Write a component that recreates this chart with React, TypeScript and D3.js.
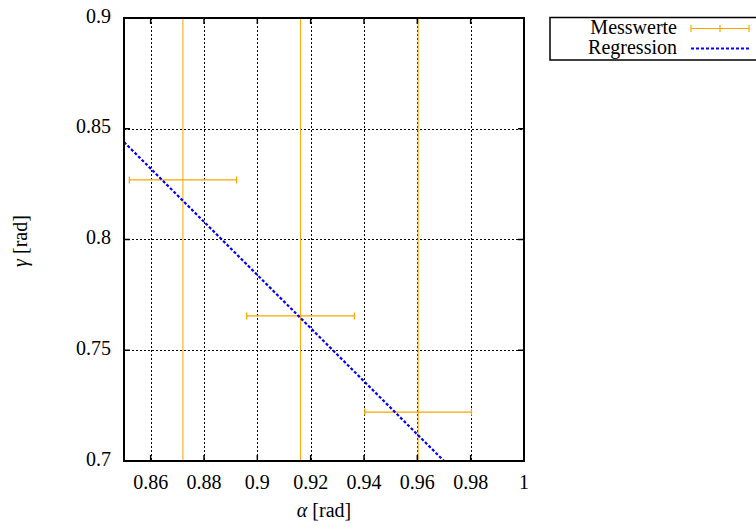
import { useEffect, useRef } from 'react';
import * as d3 from 'd3';

// measured values (alpha, gamma) with errors
const alphaValues = [0.8721, 0.9162, 0.9603];
const gammaValues = [0.8269, 0.7655, 0.7221];
const alphaErrors = [0.0201, 0.0202, 0.0200];
const gammaErrors = [0.3, 0.3, 0.3];

// regression gamma = a + b * alpha
const regIntercept = 1.864;
const regSlope = -1.2;

const xTicks = [0.86, 0.88, 0.9, 0.92, 0.94, 0.96, 0.98, 1];
const yTicks = [0.7, 0.75, 0.8, 0.85, 0.9];
const legendLabels = ['Messwerte', 'Regression'];

const App = () => {
  const svgRef = useRef<SVGSVGElement>(null);

  useEffect(() => {
    const width = 756;
    const height = 530;
    const m = { left: 124, right: 524, top: 18, bottom: 461 };
    const font = "'Liberation Serif', 'DejaVu Serif', serif";
    const fs = '20px';
    const orange = '#FFA500';

    const root = d3.select(svgRef.current);
    root.selectAll('*').remove();
    root.attr('width', width).attr('height', height)
      .attr('font-family', font);

    const x = d3.scaleLinear().domain([0.85, 1]).range([m.left, m.right]);
    const y = d3.scaleLinear().domain([0.7, 0.9]).range([m.bottom, m.top]);

    root.append('defs').append('clipPath').attr('id', 'plotclip')
      .append('rect')
      .attr('x', m.left).attr('y', m.top)
      .attr('width', m.right - m.left).attr('height', m.bottom - m.top);

    // grid
    const grid = root.append('g');
    grid.selectAll('.vx')
      .data(xTicks.filter(t => t < 1))
      .enter().append('line')
      .attr('x1', d => Math.round(x(d)) + 0.5).attr('x2', d => Math.round(x(d)) + 0.5)
      .attr('y1', m.top).attr('y2', m.bottom)
      .attr('stroke', '#000').attr('stroke-width', 1).attr('stroke-dasharray', '2,2');
    grid.selectAll('.hy')
      .data(yTicks.filter(t => t > 0.7 && t < 0.9))
      .enter().append('line')
      .attr('y1', d => Math.round(y(d)) + 0.5).attr('y2', d => Math.round(y(d)) + 0.5)
      .attr('x1', m.left).attr('x2', m.right)
      .attr('stroke', '#000').attr('stroke-width', 1).attr('stroke-dasharray', '2,2');

    const plot = root.append('g').attr('clip-path', 'url(#plotclip)');

    // error bars
    const pts = alphaValues.map((a, i) => ({
      a, g: gammaValues[i], da: alphaErrors[i], dg: gammaErrors[i]
    }));
    plot.selectAll('.ey')
      .data(pts).enter().append('line')
      .attr('x1', d => x(d.a)).attr('x2', d => x(d.a))
      .attr('y1', d => y(d.g - d.dg)).attr('y2', d => y(d.g + d.dg))
      .attr('stroke', orange).attr('stroke-width', 1);
    plot.selectAll('.ex')
      .data(pts).enter().append('line')
      .attr('x1', d => x(d.a - d.da)).attr('x2', d => x(d.a + d.da))
      .attr('y1', d => y(d.g)).attr('y2', d => y(d.g))
      .attr('stroke', orange).attr('stroke-width', 1.2);
    pts.forEach(d => {
      [d.a - d.da, d.a + d.da].forEach(v => {
        plot.append('line')
          .attr('x1', x(v)).attr('x2', x(v))
          .attr('y1', y(d.g) - 3.5).attr('y2', y(d.g) + 3.5)
          .attr('stroke', orange).attr('stroke-width', 1.2);
      });
    });

    // regression line
    const line = d3.line<number>()
      .x(d => x(d))
      .y(d => y(regIntercept + regSlope * d));
    plot.append('path')
      .attr('d', line([0.85, 1]))
      .attr('fill', 'none')
      .attr('stroke', '#0000FF').attr('stroke-width', 2.2)
      .attr('stroke-dasharray', '3,2');

    // border and ticks
    const axes = root.append('g');
    xTicks.forEach(t => {
      axes.append('line')
        .attr('x1', x(t)).attr('x2', x(t)).attr('y1', m.bottom).attr('y2', m.bottom - 6)
        .attr('stroke', '#000').attr('stroke-width', 1.5);
      axes.append('line')
        .attr('x1', x(t)).attr('x2', x(t)).attr('y1', m.top).attr('y2', m.top + 6)
        .attr('stroke', '#000').attr('stroke-width', 1.5);
      axes.append('text')
        .attr('x', x(t)).attr('y', 489)
        .attr('text-anchor', 'middle')
        .attr('font-size', fs)
        .text(String(t));
    });
    yTicks.forEach(t => {
      axes.append('line')
        .attr('x1', m.left).attr('x2', m.left + 6).attr('y1', y(t)).attr('y2', y(t))
        .attr('stroke', '#000').attr('stroke-width', 1.5);
      axes.append('line')
        .attr('x1', m.right).attr('x2', m.right - 6).attr('y1', y(t)).attr('y2', y(t))
        .attr('stroke', '#000').attr('stroke-width', 1.5);
      axes.append('text')
        .attr('x', 111).attr('y', y(t) + 4.5)
        .attr('text-anchor', 'end')
        .attr('font-size', fs)
        .text(String(t));
    });
    axes.append('rect')
      .attr('x', m.left).attr('y', m.top)
      .attr('width', m.right - m.left).attr('height', m.bottom - m.top)
      .attr('fill', 'none').attr('stroke', '#000').attr('stroke-width', 2);

    // axis labels
    const xl = axes.append('text')
      .attr('x', 324).attr('y', 517)
      .attr('text-anchor', 'middle')
      .attr('font-size', fs);
    xl.append('tspan').attr('font-style', 'italic').text('α');
    xl.append('tspan').text(' [rad]');
    const yl = axes.append('text')
      .attr('transform', 'translate(27,241) rotate(-90)')
      .attr('text-anchor', 'middle')
      .attr('font-size', fs);
    yl.append('tspan').attr('font-style', 'italic').text('γ');
    yl.append('tspan').text(' [rad]');

    // legend
    const lg = root.append('g');
    lg.append('rect')
      .attr('x', 550).attr('y', 17.5).attr('width', 220).attr('height', 42.5)
      .attr('fill', '#fff').attr('stroke', '#000').attr('stroke-width', 1.5);
    legendLabels.forEach((lab, i) => {
      lg.append('text')
        .attr('x', 677).attr('y', 34 + i * 20)
        .attr('text-anchor', 'end')
        .attr('font-size', fs)
        .text(lab);
    });
    const ly0 = 28.5;
    lg.append('line').attr('x1', 691).attr('x2', 749).attr('y1', ly0).attr('y2', ly0)
      .attr('stroke', orange).attr('stroke-width', 1.2);
    [691, 720, 749].forEach(px => {
      lg.append('line').attr('x1', px).attr('x2', px).attr('y1', ly0 - 3.5).attr('y2', ly0 + 3.5)
        .attr('stroke', orange).attr('stroke-width', 1.2);
    });
    lg.append('line').attr('x1', 691).attr('x2', 749).attr('y1', 48.5).attr('y2', 48.5)
      .attr('stroke', '#0000FF').attr('stroke-width', 2.2).attr('stroke-dasharray', '3,2');
  }, []);

  return (
    <svg ref={svgRef} style={{ position: 'absolute', left: 0, top: 0, background: '#fff' }}></svg>
  );
};

export default App;
